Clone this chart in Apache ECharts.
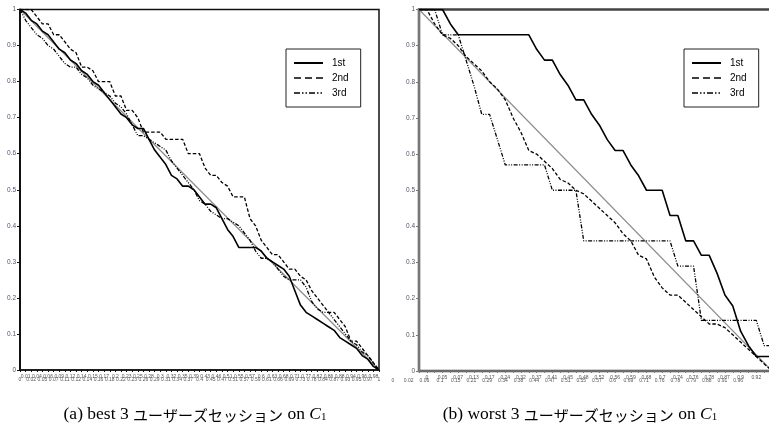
<!DOCTYPE html>
<html>
<head>
<meta charset="utf-8">
<script src="https://cdn.jsdelivr.net/npm/echarts@6/dist/echarts.min.js"></script>
<style>
  html, body { margin: 0; padding: 0; background: #fff; }
  #chart { width: 769px; height: 434px; }
</style>
</head>
<body>
<div id="chart"></div>
<script>
// Category labels (threshold values) for each panel
const leftCats = ['0','0.01','0.02','0.04','0.05','0.06','0.07','0.09','0.11','0.12','0.12','0.14','0.14','0.15','0.16','0.17','0.18','0.2','0.22','0.23','0.23','0.25','0.26','0.28','0.29','0.3','0.31','0.32','0.34','0.35','0.37','0.39','0.4','0.43','0.45','0.46','0.47','0.51','0.51','0.55','0.57','0.57','0.59','0.6','0.61','0.63','0.66','0.68','0.69','0.71','0.73','0.77','0.78','0.82','0.84','0.86','0.87','0.88','0.93','0.94','0.95','0.96','0.97','0.98','1'];
const rightCats = ['0','0','0.02','0.05','0.06','0.07','0.1','0.13','0.15','0.17','0.21','0.24','0.29','0.32','0.34','0.37','0.38','0.41','0.44','0.45','0.47','0.48','0.51','0.52','0.55','0.56','0.57','0.59','0.6','0.68','0.69','0.7','0.71','0.74','0.76','0.76','0.78','0.78','0.79','0.87','0.88','0.9','0.91','0.92','0.96','1'];

// (a) best 3 sessions
const best1st = [1.00,0.99,0.97,0.96,0.94,0.93,0.91,0.89,0.88,0.86,0.85,0.83,0.82,0.80,0.79,0.77,0.75,0.73,0.71,0.70,0.68,0.67,0.67,0.64,0.61,0.59,0.57,0.54,0.53,0.51,0.51,0.50,0.48,0.46,0.46,0.45,0.42,0.39,0.37,0.34,0.34,0.34,0.34,0.33,0.31,0.30,0.29,0.28,0.26,0.22,0.18,0.16,0.15,0.14,0.13,0.12,0.11,0.09,0.08,0.07,0.06,0.04,0.03,0.01,0.00];
const best2nd = [1.00,1.00,1.00,0.98,0.96,0.96,0.93,0.93,0.91,0.89,0.88,0.84,0.84,0.83,0.80,0.80,0.80,0.76,0.76,0.72,0.72,0.70,0.66,0.66,0.66,0.66,0.64,0.64,0.64,0.64,0.60,0.60,0.60,0.56,0.54,0.54,0.52,0.51,0.48,0.48,0.48,0.42,0.40,0.36,0.34,0.32,0.32,0.30,0.28,0.28,0.26,0.25,0.22,0.20,0.18,0.16,0.16,0.14,0.12,0.08,0.08,0.06,0.04,0.02,0.00];
const best3rd = [1.00,0.97,0.95,0.93,0.92,0.90,0.89,0.87,0.85,0.84,0.84,0.82,0.81,0.79,0.78,0.77,0.76,0.74,0.73,0.71,0.68,0.65,0.65,0.64,0.63,0.62,0.61,0.58,0.56,0.54,0.52,0.50,0.47,0.46,0.44,0.43,0.42,0.42,0.41,0.40,0.38,0.36,0.33,0.31,0.31,0.30,0.28,0.26,0.25,0.25,0.25,0.23,0.19,0.17,0.16,0.16,0.14,0.12,0.10,0.08,0.07,0.05,0.04,0.02,0.00];

// (b) worst 3 sessions
const worst1st = [1.00,1.00,1.00,1.00,0.96,0.93,0.93,0.93,0.93,0.93,0.93,0.93,0.93,0.93,0.93,0.89,0.86,0.86,0.82,0.79,0.75,0.75,0.71,0.68,0.64,0.61,0.61,0.57,0.54,0.50,0.50,0.50,0.43,0.43,0.36,0.36,0.32,0.32,0.27,0.21,0.18,0.11,0.07,0.04,0.04,0.04];
const worst2nd = [1.00,1.00,0.96,0.93,0.92,0.90,0.87,0.85,0.83,0.80,0.78,0.75,0.70,0.66,0.61,0.60,0.58,0.56,0.53,0.52,0.50,0.49,0.47,0.45,0.43,0.41,0.38,0.36,0.32,0.31,0.26,0.23,0.21,0.21,0.19,0.17,0.15,0.13,0.13,0.12,0.10,0.08,0.06,0.04,0.02,0.00];
const worst3rd = [1.00,1.00,1.00,0.93,0.93,0.93,0.86,0.79,0.71,0.71,0.64,0.57,0.57,0.57,0.57,0.57,0.57,0.50,0.50,0.50,0.50,0.36,0.36,0.36,0.36,0.36,0.36,0.36,0.36,0.36,0.36,0.36,0.36,0.29,0.29,0.29,0.14,0.14,0.14,0.14,0.14,0.14,0.14,0.14,0.07,0.07];

// Reference diagonal: start and end values
const diagonal = [1, 0];

const seriesNames = ['1st', '2nd', '3rd'];
const tickFont = 'Liberation Sans, Arial, sans-serif';

const styles = {
  '1st': { color: '#000', width: 1.6, type: 'solid' },
  '2nd': { color: '#000', width: 1.3, type: [3.5, 2] },
  '3rd': { color: '#000', width: 1.3, type: [4, 1.5, 1, 1.5, 1, 1.5] }
};
const legendStyles = {
  '1st': { color: '#000', width: 2, type: 'solid' },
  '2nd': { color: '#000', width: 1.5, type: [7, 4] },
  '3rd': { color: '#000', width: 1.5, type: [6, 2, 1.5, 2, 1.5, 2] }
};

function diagData(cats) {
  const last = cats.length - 1;
  return cats.map((_, i) => (i === 0 ? diagonal[0] : i === last ? diagonal[1] : null));
}

function makeX(gi, cats, shift, color) {
  return {
    type: 'category', gridIndex: gi, data: cats, boundaryGap: false,
    axisLine: { show: true, lineStyle: { color: color, width: 1.5 } },
    axisTick: { show: true, interval: 0, length: 2, lineStyle: { color: color, width: 1 } },
    axisLabel: {
      interval: 0, margin: 4, color: '#555', fontSize: 5, fontFamily: tickFont,
      formatter: (v, i) => (i % 2 ? '{hi|' + v + '}' : '{lo|' + v + '}'),
      rich: {
        hi: { fontSize: 5, lineHeight: 6, color: '#555', fontFamily: tickFont },
        lo: { fontSize: 5, lineHeight: 6, color: '#555', fontFamily: tickFont, padding: [6, shift, 0, 0] }
      }
    },
    splitLine: { show: false }
  };
}

function makeY(gi, color) {
  return {
    type: 'value', gridIndex: gi, min: 0, max: 1, interval: 0.1,
    axisLine: { show: true, lineStyle: { color: color, width: 2 } },
    axisTick: { show: true, length: 3, lineStyle: { color: color, width: 1 } },
    axisLabel: { fontSize: 6.5, color: '#5b506b', margin: 4, fontFamily: tickFont },
    splitLine: { show: false }
  };
}

function panelSeries(gi, values, cats) {
  const list = seriesNames.map((name, k) => ({
    type: 'line', name: name, xAxisIndex: gi, yAxisIndex: gi,
    data: values[k], symbol: 'none', lineStyle: styles[name], z: 3 + (2 - k)
  }));
  list.unshift({
    type: 'line', name: 'diag' + gi, xAxisIndex: gi, yAxisIndex: gi,
    data: diagData(cats), connectNulls: true, symbol: 'none',
    lineStyle: { color: '#8c8c8c', width: 1.2 }, z: 2
  });
  return list;
}

function makeLegend(left) {
  return {
    left: left, top: 49, orient: 'vertical', selectedMode: false,
    itemWidth: 29, itemHeight: 8, itemGap: 5, padding: [9, 12, 9, 7],
    borderColor: '#222', borderWidth: 1, backgroundColor: '#fff',
    textStyle: { fontSize: 10, color: '#000', fontFamily: 'Liberation Sans Narrow, Liberation Sans, sans-serif', padding: [0, 0, 0, 4] },
    data: seriesNames.map(n => ({
      name: n,
      lineStyle: legendStyles[n],
      itemStyle: { color: 'rgba(0,0,0,0)', borderWidth: 0, opacity: 0 }
    }))
  };
}

const captionRich = {
  n: { fontFamily: 'Liberation Serif, serif', fontSize: 17.5, lineHeight: 20, color: '#000', verticalAlign: 'bottom' },
  j: { fontFamily: 'Noto Sans CJK JP', fontSize: 15, lineHeight: 20, color: '#000', verticalAlign: 'bottom' },
  i: { fontFamily: 'Liberation Serif, serif', fontStyle: 'italic', fontSize: 17.5, lineHeight: 20, color: '#000', verticalAlign: 'bottom' },
  s: { fontFamily: 'Liberation Serif, serif', fontSize: 11, lineHeight: 8, color: '#000', verticalAlign: 'bottom' }
};

function caption(x, label) {
  return {
    type: 'text', x: x, y: 413,
    style: {
      text: '{n|' + label + ' }{j|ユーザーズセッション}{n| on }{i|C}{s|1}',
      rich: captionRich, align: 'center', verticalAlign: 'middle',
      textAlign: 'center', textVerticalAlign: 'middle'
    }
  };
}

const chart = echarts.init(document.getElementById('chart'), null, { renderer: 'canvas' });
chart.setOption({
  animation: false,
  backgroundColor: '#fff',
  grid: [
    { left: 20, top: 9.5, width: 359, height: 360.5, show: true, borderColor: '#111', borderWidth: 1.5, outerBoundsMode: 'none', containLabel: false },
    { left: 419, top: 9.5, width: 353, height: 361.5, show: true, borderColor: '#444', borderWidth: 2.5, outerBoundsMode: 'none', containLabel: false }
  ],
  xAxis: [makeX(0, leftCats, 0, '#111'), makeX(1, rightCats, 52, '#777')],
  yAxis: [makeY(0, '#111'), makeY(1, '#777')],
  legend: [makeLegend(286), makeLegend(684)],
  series: panelSeries(0, [best1st, best2nd, best3rd], leftCats)
    .concat(panelSeries(1, [worst1st, worst2nd, worst3rd], rightCats)),
  graphic: [
    caption(195, '(a) best 3'),
    caption(580, '(b) worst 3')
  ]
});
</script>
</body>
</html>
